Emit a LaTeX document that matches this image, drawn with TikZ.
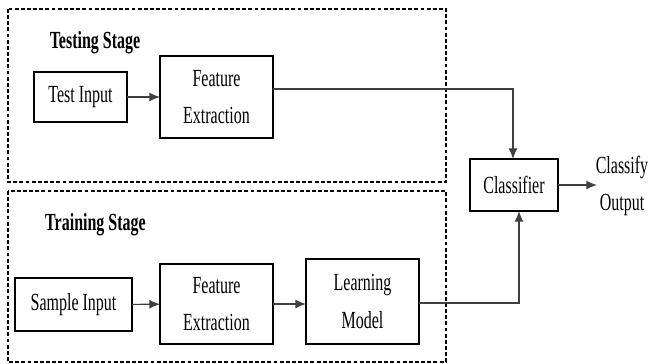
\documentclass[tikz,border=0pt]{standalone}
\usepackage{fontspec}
\setmainfont{Liberation Serif}[FakeStretch=0.65]
\usepackage{tikz}
\usetikzlibrary{arrows.meta}

\begin{document}
\begin{tikzpicture}[x=0.02cm, y=-0.02cm,
  every node/.style={font=\fontsize{14}{21.5}\selectfont, outer sep=0pt, inner sep=0pt},
  blk/.style={draw, line width=0.8pt, align=center},
  stage/.style={font=\fontsize{14}{15}\selectfont\bfseries},
  frame/.style={line width=0.6pt, dash pattern=on 2.2pt off 1.3pt},
  link/.style={draw=black!75, line width=0.6pt, -{Latex[length=6pt, width=5pt]}}]
\useasboundingbox (0,0) rectangle (649,363);

% stage frames
\draw[frame] (8,9) rectangle (446,182);
\draw[frame] (8,191) rectangle (446,362);
\node[stage] (testlbl) at (95,43) {Testing Stage};
\node[stage] (trainlbl) at (95.5,225) {Training Stage};

% testing stage
\node[blk, minimum width=1.86cm, minimum height=1.0cm] (testin) at (80.5,97) {Test Input};
\node[blk, minimum width=2.26cm, minimum height=1.64cm] (testfe) at (216.5,97) {Feature\\Extraction};

% training stage
\node[blk, minimum width=2.34cm, minimum height=1.06cm] (sampin) at (73.5,304.5) {Sample Input};
\node[blk, minimum width=2.26cm, minimum height=1.6cm] (trainfe) at (216.5,304) {Feature\\Extraction};
\node[blk, minimum width=2.26cm, minimum height=1.7cm] (learn) at (362.5,301.5) {Learning\\Model};

% classifier
\node[blk, minimum width=1.76cm, minimum height=1.04cm] (clf) at (514,185) {Classifier};
\node[align=center] (out) at (622,186) {Classify\\Output};

\coordinate (tjoin) at (513,89);
\coordinate (bjoin) at (519,303);
\coordinate (outend) at (597,185);

\draw[link] (testin) -- (testfe);
\draw[link] (sampin) -- (trainfe);
\draw[link] (trainfe) -- (learn.west |- trainfe);
\draw[link] (testfe.east |- tjoin) -- (tjoin) -- (tjoin |- clf.north);
\draw[link] (learn.east |- bjoin) -- (bjoin) -- (bjoin |- clf.south);
\draw[link] (clf) -- (outend);
\end{tikzpicture}
\end{document}
